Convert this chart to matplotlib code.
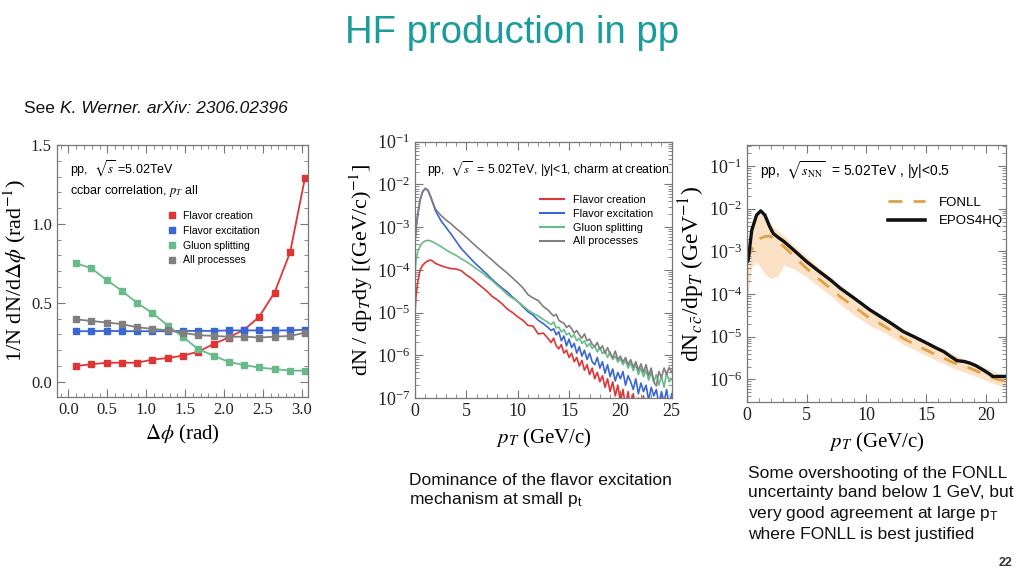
import numpy as np
import matplotlib
matplotlib.use("Agg")
import matplotlib.pyplot as plt
from matplotlib.lines import Line2D
from matplotlib.ticker import MultipleLocator, LogLocator, NullFormatter

plt.rcParams['font.family'] = ['Liberation Sans', 'DejaVu Sans']
plt.rcParams['mathtext.fontset'] = 'stix'

# ---------------- panel 1: ccbar azimuthal correlation ----------------
dphi = [0.10, 0.29, 0.49, 0.69, 0.88, 1.08, 1.28, 1.47,
        1.67, 1.87, 2.06, 2.26, 2.45, 2.65, 2.85, 3.04]
corr_creation = [0.10, 0.11, 0.12, 0.12, 0.12, 0.14, 0.15, 0.165,
                 0.19, 0.24, 0.28, 0.33, 0.41, 0.565, 0.82, 1.29]
corr_excitation = [0.32, 0.32, 0.322, 0.32, 0.32, 0.32, 0.32, 0.322,
                   0.322, 0.322, 0.325, 0.325, 0.325, 0.325, 0.325, 0.33]
corr_splitting = [0.75, 0.72, 0.645, 0.575, 0.50, 0.435, 0.355, 0.285,
                  0.205, 0.165, 0.125, 0.105, 0.09, 0.08, 0.07, 0.07]
corr_all = [0.395, 0.385, 0.375, 0.365, 0.345, 0.335, 0.325, 0.31,
            0.295, 0.29, 0.285, 0.285, 0.28, 0.285, 0.29, 0.31]

# ---------------- panel 2: pT spectra per process (log10 values) ----------------
pt2 = np.concatenate([[0.0, 0.1, 0.25, 0.5, 0.75, 1.0, 1.25, 1.5, 1.75, 2.0, 2.5, 3.0],
                      np.arange(3.5, 13.01, 0.5), np.arange(13.25, 25.01, 0.25)])
log_all = [-3.34, -3.05, -2.75, -2.36, -2.16, -2.09, -2.13, -2.27, -2.43, -2.58, -2.72, -2.83,
           -2.92, -3.03, -3.13, -3.24, -3.35, -3.46, -3.56, -3.67, -3.77, -3.88,
           -3.98, -4.08, -4.19, -4.30, -4.42, -4.58, -4.66, -4.72, -4.86, -4.95,
           -5.02, -5.08, -5.04, -5.18, -5.22, -5.25, -5.35, -5.30, -5.38, -5.48, -5.42, -5.52,
           -5.60, -5.50, -5.66, -5.62, -5.74, -5.80, -5.70, -5.86, -5.78, -5.95, -5.82, -5.98,
           -6.06, -5.90, -6.10, -6.02, -6.16, -6.05, -6.22, -6.10, -6.28, -6.15, -6.35, -6.20,
           -6.40, -6.22, -6.48, -6.30, -6.62, -6.72, -6.38, -6.52, -6.30, -6.45, -6.28, -6.40]
log_excitation = [-3.30, -3.00, -2.72, -2.36, -2.17, -2.10, -2.14, -2.28, -2.45, -2.62, -2.84, -3.00,
                  -3.16, -3.33, -3.50, -3.63, -3.76, -3.88, -3.99, -4.10, -4.22, -4.33,
                  -4.43, -4.52, -4.64, -4.74, -4.86, -4.98, -5.06, -5.18, -5.26, -5.36,
                  -5.42, -5.38, -5.52, -5.45, -5.66, -5.55, -5.78, -5.62, -5.82, -5.72, -5.95, -5.80,
                  -6.02, -5.88, -6.10, -5.95, -6.15, -6.22, -6.05, -6.30, -6.15, -6.42, -6.22, -6.50,
                  -6.32, -6.60, -6.40, -6.55, -6.38, -6.70, -6.48, -6.62, -6.80, -6.55, -6.90, -6.65,
                  -6.85, -6.70, -7.05, -6.75, -6.95, -6.80, -7.15, -6.85, -7.10, -6.80, -7.20, -6.90]
log_splitting = [-4.05, -3.78, -3.58, -3.44, -3.36, -3.32, -3.31, -3.32, -3.35, -3.38, -3.45, -3.53,
                 -3.60, -3.66, -3.74, -3.81, -3.89, -3.98, -4.06, -4.16, -4.25, -4.36,
                 -4.46, -4.58, -4.66, -4.74, -4.84, -4.94, -5.02, -5.08, -5.16, -5.24,
                 -5.28, -5.22, -5.36, -5.34, -5.45, -5.40, -5.52, -5.48, -5.58, -5.52, -5.66, -5.60,
                 -5.72, -5.66, -5.80, -5.72, -5.84, -5.78, -5.92, -5.82, -5.96, -5.90, -6.05, -5.92,
                 -6.10, -6.02, -6.16, -6.08, -6.22, -6.12, -6.30, -6.18, -6.36, -6.22, -6.45, -6.30,
                 -6.50, -6.35, -6.58, -6.40, -6.62, -6.45, -6.70, -6.48, -6.75, -6.40, -6.62, -6.55]
log_creation = [-5.00, -4.60, -4.30, -4.00, -3.89, -3.83, -3.79, -3.77, -3.80, -3.85, -3.90, -3.94,
                -3.97, -3.98, -4.02, -4.12, -4.20, -4.30, -4.40, -4.50, -4.62, -4.70,
                -4.80, -4.92, -5.00, -5.10, -5.18, -5.30, -5.32, -5.50, -5.48, -5.62,
                -5.70, -5.60, -5.78, -5.85, -5.75, -5.95, -5.88, -6.05, -5.95, -6.15, -6.05, -6.25,
                -6.12, -6.35, -6.22, -6.45, -6.30, -6.55, -6.40, -6.62, -6.48, -6.75, -6.55, -6.85,
                -6.62, -6.95, -6.70, -7.10, -6.80, -7.20, -6.85, -7.30, -6.90, -7.35, -7.00, -7.40,
                -6.95, -7.45, -7.10, -7.50, -7.05, -7.50, -7.20, -7.50, -7.10, -7.50, -7.25, -7.50]

# ---------------- panel 3: EPOS4HQ vs FONLL (log10 values) ----------------
pt3 = [0.0, 0.1, 0.4, 0.8, 1.15, 1.5, 1.9, 2.2, 2.6, 3.1, 4, 5, 6, 7, 7.8, 9, 10.3, 11.2,
       12, 13.1, 14, 15, 15.9, 16.5, 17, 17.6, 18.2, 18.7, 19.2, 19.8, 20.2, 20.6, 21, 21.7]
log_epos = [-3.25, -3.2, -2.5, -2.15, -2.05, -2.15, -2.42, -2.58, -2.67, -2.77, -2.99, -3.24,
            -3.46, -3.67, -3.86, -4.1, -4.37, -4.53, -4.67, -4.88, -5.0, -5.14, -5.27, -5.35,
            -5.45, -5.56, -5.58, -5.62, -5.68, -5.78, -5.85, -5.93, -5.93, -5.93]
log_fonll = [-3.2, -3.12, -2.95, -2.76, -2.69, -2.65, -2.64, -2.69, -2.77, -2.89, -3.13, -3.4,
             -3.64, -3.87, -4.06, -4.3, -4.57, -4.7, -4.84, -5.04, -5.17, -5.31, -5.43, -5.5,
             -5.57, -5.64, -5.69, -5.74, -5.8, -5.87, -5.92, -5.96, -6.0, -6.04]
log_fonll_hi = [-3.0, -2.9, -2.5, -2.22, -2.12, -2.1, -2.3, -2.42, -2.52, -2.63, -2.88, -3.13,
                -3.37, -3.6, -3.8, -4.05, -4.4, -4.5, -4.63, -4.82, -4.95, -5.1, -5.22, -5.3,
                -5.37, -5.45, -5.52, -5.57, -5.63, -5.7, -5.75, -5.8, -5.84, -5.9]
log_fonll_lo = [-4.0, -3.98, -3.36, -3.26, -3.38, -3.52, -3.63, -3.62, -3.58, -3.32, -3.42, -3.6,
                -3.82, -4.04, -4.24, -4.5, -4.74, -4.86, -4.98, -5.18, -5.3, -5.44, -5.56, -5.63,
                -5.7, -5.77, -5.83, -5.88, -5.93, -6.0, -6.05, -6.09, -6.13, -6.18]

RED, BLUE, GREEN, GRAY = '#e03535', '#3a66d4', '#68bb88', '#7f7f7f'
SERIF = ['Liberation Serif', 'DejaVu Serif']


def style_axes(ax, labelsize=12):
    for s in ax.spines.values():
        s.set_color('#777777')
        s.set_linewidth(0.9)
    ax.tick_params(which='both', direction='in', top=True, right=True, colors='#777777',
                   labelcolor='#222222', labelsize=labelsize)
    ax.tick_params(which='major', length=6)
    ax.tick_params(which='minor', length=3)
    for lab in ax.get_xticklabels() + ax.get_yticklabels():
        lab.set_family(SERIF)


fig = plt.figure(figsize=(10.24, 5.76), dpi=100)
fig.patch.set_facecolor('white')

fig.text(0.5, 0.943, "HF production in pp", ha='center', va='center', fontsize=27.5,
         color='#1b9c9c')
t0 = fig.text(0.0235, 0.812, "See ", ha='left', va='center', fontsize=12.5, color='#111111')
fig.add_artist(plt.Annotation("K. Werner. arXiv: 2306.02396", xy=(1.0, 0.5), xycoords=t0,
                              ha='left', va='center', fontsize=12.5, color='#111111',
                              style='italic'))

# ---- panel 1
ax1 = fig.add_axes([0.0554, 0.3113, 0.2454, 0.437])
for y, c in [(corr_creation, RED), (corr_excitation, BLUE), (corr_splitting, GREEN), (corr_all, GRAY)]:
    ax1.plot(dphi, y, color=c, lw=1.3, marker='s', ms=4.5, mec=c, mfc=c)
ax1.set_xlim(-0.15, 3.08)
ax1.set_ylim(-0.095, 1.5)
ax1.xaxis.set_minor_locator(MultipleLocator(0.1))
ax1.yaxis.set_minor_locator(MultipleLocator(0.1))
ax1.set_xticks([0, 0.5, 1.0, 1.5, 2.0, 2.5, 3.0])
ax1.set_xticklabels(['0.0', '0.5', '1.0', '1.5', '2.0', '2.5', '3.0'])
ax1.set_yticks([0, 0.5, 1.0, 1.5])
ax1.set_yticklabels(['0.0', '0.5', '1.0', '1.5'])
style_axes(ax1)
ax1.set_xlabel(r"$\Delta\phi$ (rad)", family=SERIF, fontsize=15, labelpad=4)
ax1.set_ylabel(r"1/N dN/d$\Delta\phi$ (rad$^{-1}$)", family=SERIF, fontsize=16, labelpad=1)
ax1.text(0.053, 0.905, r"pp,  $\sqrt{s}$ =5.02TeV", transform=ax1.transAxes, fontsize=9, va='center')
ax1.text(0.053, 0.817, r"ccbar correlation, $p_T$ all", transform=ax1.transAxes, fontsize=9, va='center')
h1 = [Line2D([], [], ls='none', marker='s', ms=4.5, color=c) for c in (RED, BLUE, GREEN, GRAY)]
ax1.legend(h1, ["Flavor creation", "Flavor excitation", "Gluon splitting", "All processes"],
           loc='upper left', bbox_to_anchor=(0.40, 0.775), frameon=False, fontsize=7.6,
           handlelength=1.0, handletextpad=0.5, labelspacing=0.45)

# ---- panel 2
ax2 = fig.add_axes([0.4053, 0.309, 0.2507, 0.445])
for ly, c in [(log_creation, RED), (log_excitation, BLUE), (log_splitting, GREEN), (log_all, GRAY)]:
    ax2.plot(pt2, 10.0 ** np.array(ly), color=c, lw=1.2)
ax2.set_yscale('log')
ax2.set_xlim(0, 25)
ax2.set_ylim(1e-7, 1e-1)
ax2.xaxis.set_major_locator(MultipleLocator(5))
ax2.xaxis.set_minor_locator(MultipleLocator(1))
ax2.yaxis.set_major_locator(LogLocator(base=10, numticks=10))
ax2.yaxis.set_minor_locator(LogLocator(base=10, subs=np.arange(2, 10), numticks=20))
ax2.yaxis.set_minor_formatter(NullFormatter())
style_axes(ax2, labelsize=13)
ax2.set_xlabel(r"$p_T$ (GeV/c)", family=SERIF, fontsize=15, labelpad=5)
ax2.set_ylabel(r"dN / dp$_T$dy [(GeV/c)$^{-1}$]", family=SERIF, fontsize=16, labelpad=1)
ax2.text(0.045, 0.897, r"pp,  $\sqrt{s}$  = 5.02TeV, |y|<1, charm at creation",
         transform=ax2.transAxes, fontsize=8.8, va='center')
h2 = [Line2D([], [], color=c, lw=1.5) for c in (RED, BLUE, GREEN, GRAY)]
ax2.legend(h2, ["Flavor creation", "Flavor excitation", "Gluon splitting", "All processes"],
           loc='upper left', bbox_to_anchor=(0.45, 0.83), frameon=False, fontsize=7.8,
           handlelength=2.2, handletextpad=0.8, labelspacing=0.35)

# ---- panel 3
ax3 = fig.add_axes([0.7295, 0.302, 0.2529, 0.446])
ax3.fill_between(pt3, 10.0 ** np.array(log_fonll_lo), 10.0 ** np.array(log_fonll_hi),
                 color='#fbe2c6', lw=0)
ax3.plot(pt3, 10.0 ** np.array(log_fonll), color='#e0a045', lw=2, dashes=(5, 4))
ax3.plot(pt3, 10.0 ** np.array(log_epos), color='#111111', lw=2.4)
ax3.set_yscale('log')
ax3.set_xlim(0, 21.7)
ax3.set_ylim(10 ** -6.53, 10 ** -0.51)
ax3.xaxis.set_major_locator(MultipleLocator(5))
ax3.xaxis.set_minor_locator(MultipleLocator(1))
ax3.yaxis.set_major_locator(LogLocator(base=10, numticks=10))
ax3.yaxis.set_minor_locator(LogLocator(base=10, subs=np.arange(2, 10), numticks=20))
ax3.yaxis.set_minor_formatter(NullFormatter())
style_axes(ax3, labelsize=13)
ax3.set_xlabel(r"$p_T$ (GeV/c)", family=SERIF, fontsize=15, labelpad=5)
ax3.set_ylabel(r"dN$_{c\,\bar{c}}$/dp$_T$ (GeV$^{-1}$)", family=SERIF, fontsize=17, labelpad=1)
ax3.text(0.05, 0.899, r"pp,  $\sqrt{s_{\rm NN}}$  = 5.02TeV , |y|<0.5",
         transform=ax3.transAxes, fontsize=10, va='center')
h3 = [Line2D([], [], color='#e0a045', lw=2, dashes=(5, 4)), Line2D([], [], color='#111111', lw=2.6)]
ax3.legend(h3, ["FONLL", "EPOS4HQ"], loc='upper left', bbox_to_anchor=(0.5, 0.845),
           frameon=False, fontsize=9.5, handlelength=2.8, handletextpad=1.0, labelspacing=0.45)

# ---- slide comments
fig.text(0.3994, 0.148, "Dominance of the flavor excitation\nmechanism at small p$_\\mathregular{t}$",
         ha='left', va='center', fontsize=12.5, color='#111111', linespacing=1.15)
fig.text(0.7305, 0.125, "Some overshooting of the FONLL\nuncertainty band below 1 GeV, but\n"
         "very good agreement at large p$_\\mathregular{T}$\nwhere FONLL is best justified",
         ha='left', va='center', fontsize=12.5, color='#111111', linespacing=1.3)
fig.text(0.9815, 0.023, "22", ha='center', va='center', fontsize=9, fontweight='bold', color='#333333')

fig.savefig("out.png", dpi=100, facecolor='white')
